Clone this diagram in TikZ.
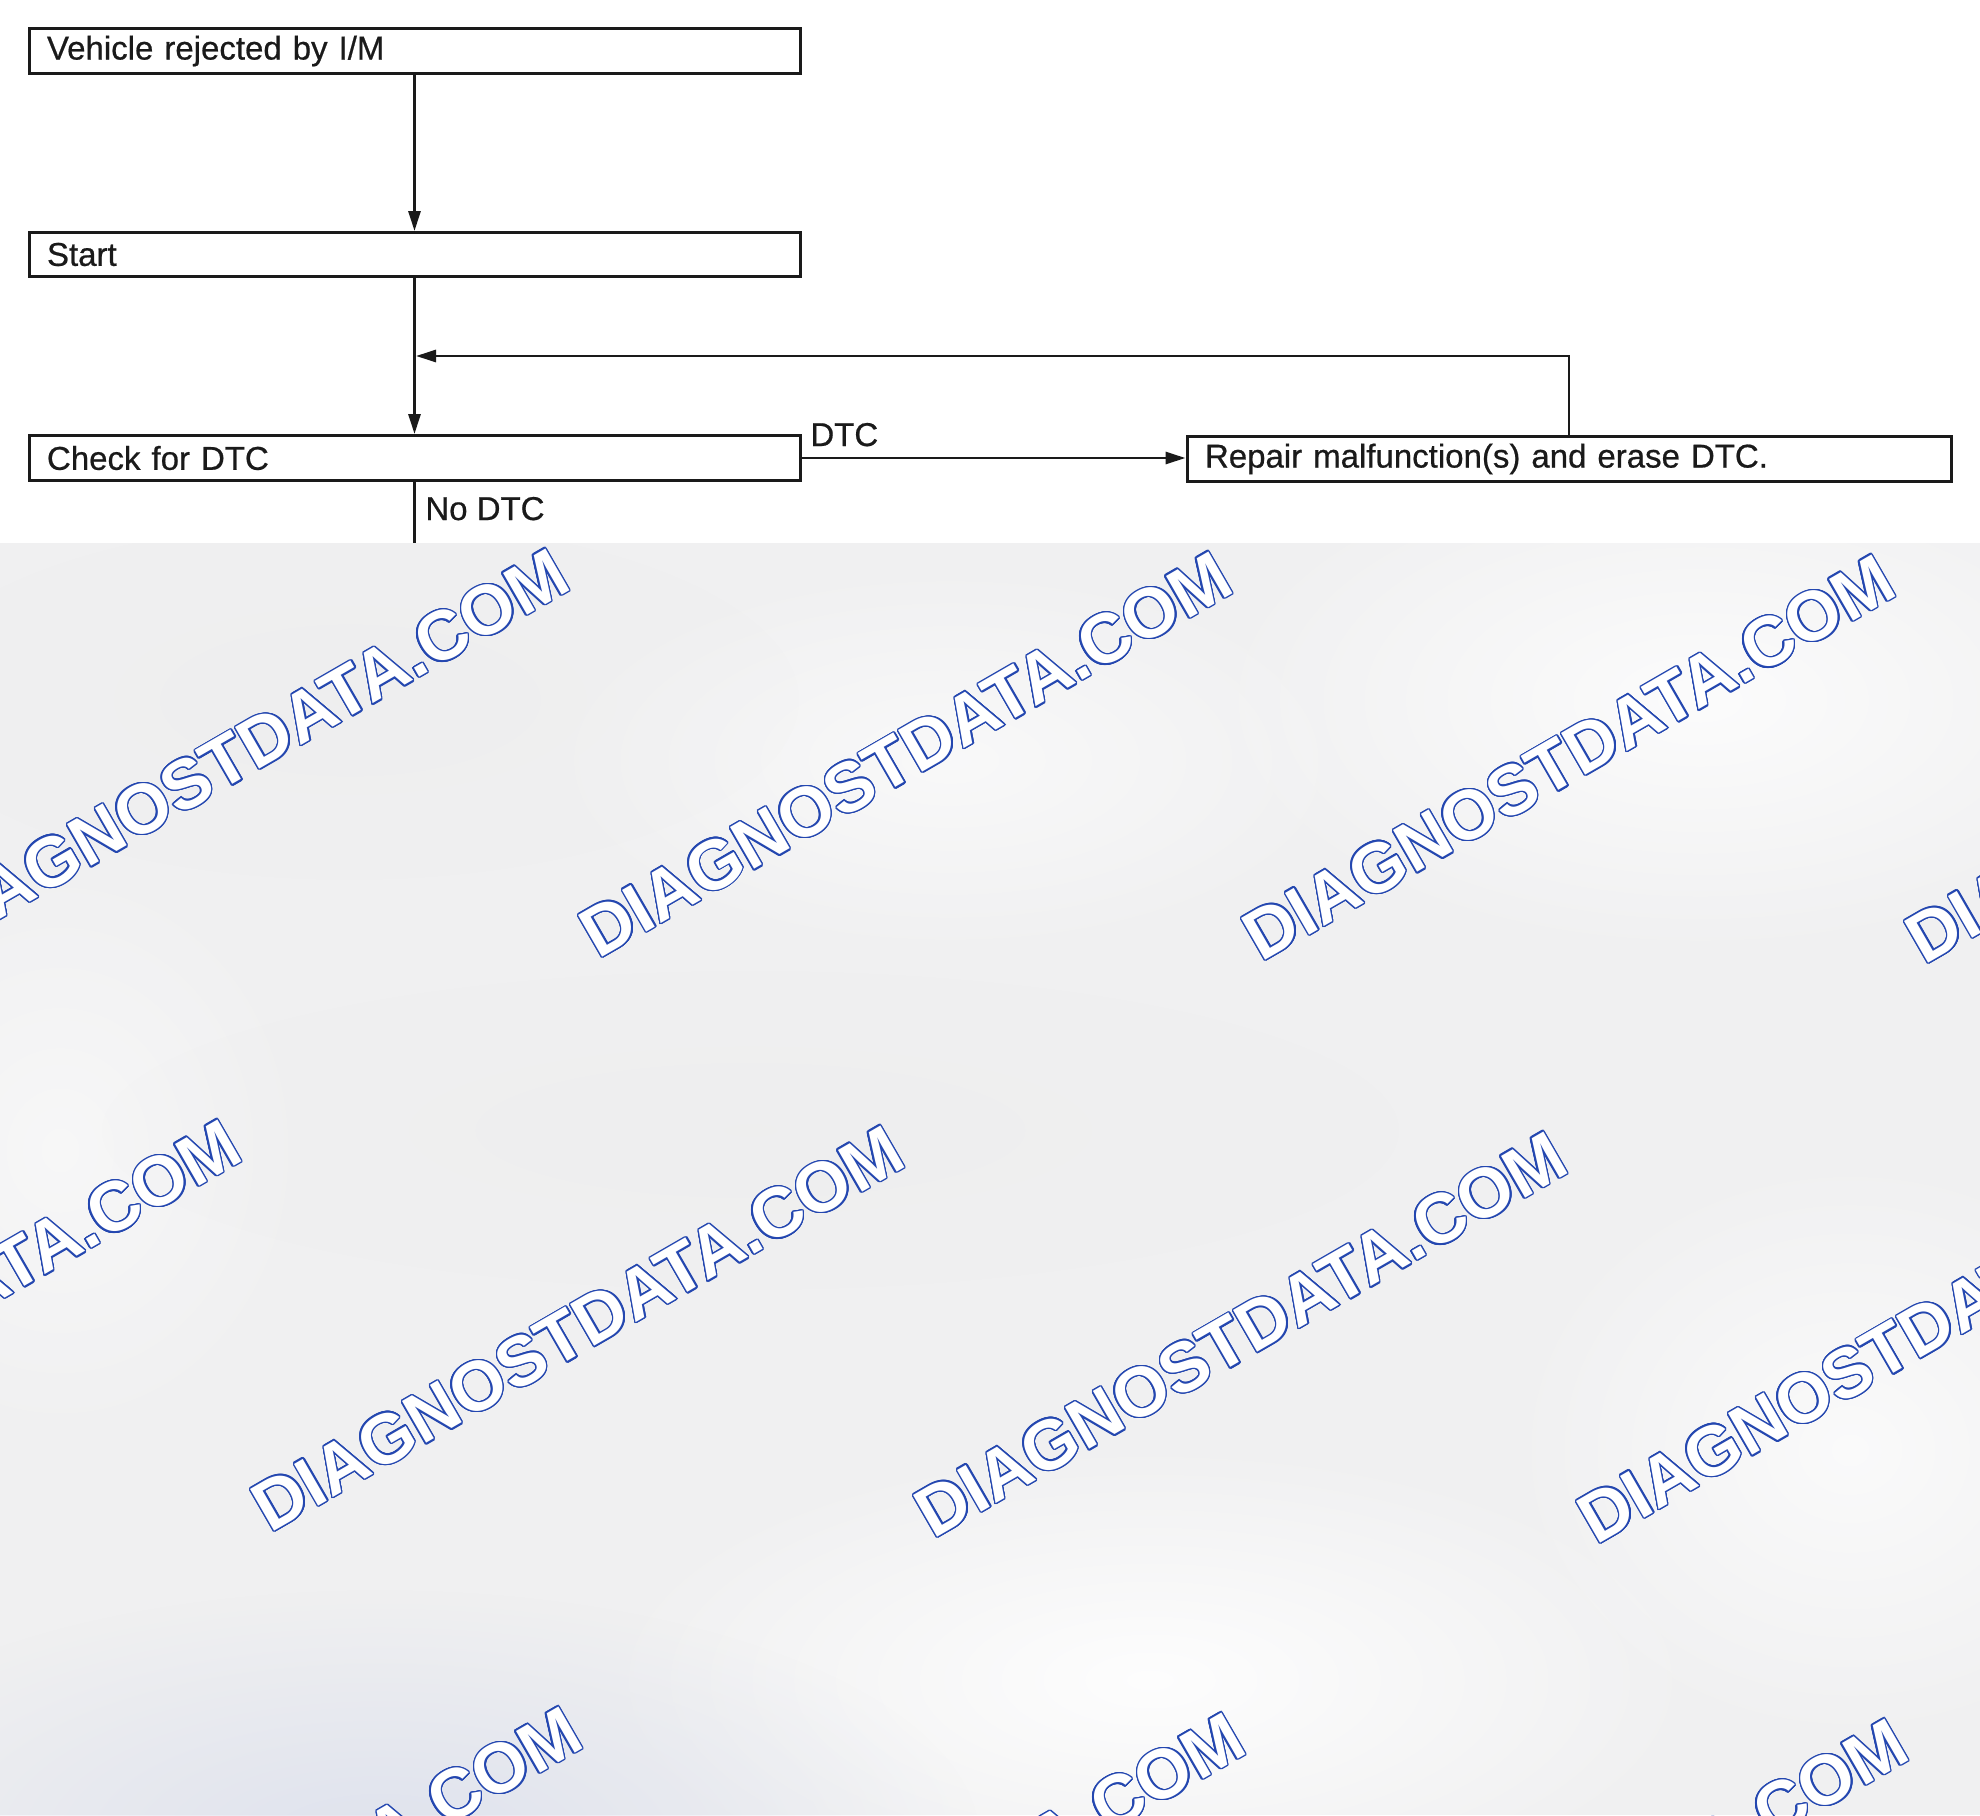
\documentclass[tikz,border=0pt]{standalone}
\usepackage{fontspec}
\setmainfont{Liberation Sans}
\newfontfamily\chartfont[FakeBold=0.6]{Liberation Sans}
\usepackage[copies]{contour}
\usetikzlibrary{arrows.meta,fadings}
\definecolor{wmblue}{HTML}{2447B0}
\definecolor{bgray}{HTML}{F0F0F1}
\definecolor{bblue}{HTML}{DDE1ED}
\definecolor{lineblack}{HTML}{1A1A1A}
\contourlength{0.7pt}
\contournumber{20}
\tikzfading[name=blob, inner color=transparent!0, outer color=transparent!100]
\tikzset{
  box/.style={draw=lineblack, line width=1.5pt, rectangle, inner xsep=9pt, inner ysep=0pt,
    minimum height=22.5pt, align=left, font=\chartfont\fontsize{16.5}{19}\selectfont, text=lineblack},
  wide/.style={minimum width=385.5pt, text width=367.5pt},
  wider/.style={minimum width=382pt, text width=364pt},
  conn/.style={draw=lineblack, line width=1.4pt},
  arr/.style={conn, -{Triangle[length=10pt,width=6pt]}},
  lbl/.style={font=\chartfont\fontsize{16.5}{19}\selectfont, text=lineblack, inner sep=0pt, anchor=base west},
  wm/.style={rotate=30, text=white, inner sep=0pt, font=\bfseries\fontsize{35}{42}\selectfont},
  soft/.style={path fading=blob}
}
\begin{document}
\begin{tikzpicture}[x=0.5pt,y=-0.5pt]
\useasboundingbox (0,0) rectangle (1980,1815);
\fill[white] (0,0) rectangle (1980,1815);

% flowchart
\node[box,wide] (veh) at (414.5,51) {Vehicle rejected by I/M};
\node[box,wide,minimum height=22pt] (start) at (414.5,254.5) {Start};
\node[box,wide] (check) at (414.5,458) {Check for DTC};
\node[box,wider] (repair) at (1569,459) {Repair malfunction(s) and erase DTC.};
\coordinate (fb) at (416,356);
\coordinate (cut) at (414.5,545);

\draw[arr] (veh.south) -- (start.north);
\draw[arr] (start.south) -- (check.north);
\draw[arr] (repair.north) |- (fb);
\draw[arr] (check.east) -- (check.east -| repair.west);
\draw[conn] (check.south) -- (cut);

\node[lbl] (ldtc) at (810,446) {DTC};
\node[lbl] (lnodtc) at (425,520) {No DTC};

% lower watermark panel
\begin{scope}
\clip (0,543) rectangle (1980,1815);
\fill[bgray] (0,543) rectangle (1980,1815);
\fill[white, soft, opacity=0.8] (1700,700) ellipse (500 and 260);
\fill[white, soft, opacity=0.6] (950,760) ellipse (420 and 200);
\fill[white, soft, opacity=0.9] (1150,1680) ellipse (560 and 240);
\fill[white, soft, opacity=0.7] (1850,1450) ellipse (350 and 300);
\fill[white, soft, opacity=0.5] (60,1150) ellipse (260 and 300);
\fill[bblue, soft, opacity=0.9] (380,1840) ellipse (600 and 250);
\fill[black!8, soft, opacity=0.35] (750,1130) ellipse (650 and 160);
\fill[black!8, soft, opacity=0.35] (350,700) ellipse (450 and 180);

\foreach \cx/\cy [count=\i] in {243/752, 906/755, 1569/758, 2232/761,
   -85/1323, 578/1329, 1241/1335, 1904/1341,
   -410/1900, 256/1910, 919/1916, 1582/1922, 2245/1925}
  \node[wm] (wm\i) at (\cx,\cy) {\contour{wmblue}{DIAGNOSTDATA.COM}};
\end{scope}
\end{tikzpicture}
\end{document}
